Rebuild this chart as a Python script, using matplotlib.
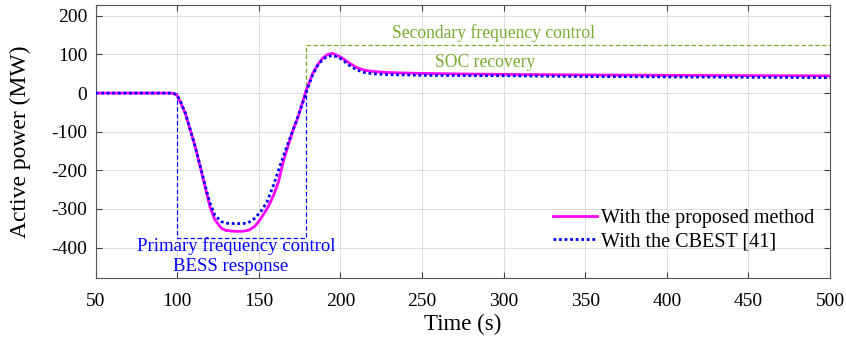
import numpy as np
import matplotlib.pyplot as plt

plt.rcParams['font.family'] = ['Liberation Serif', 'DejaVu Serif']
plt.rcParams['axes.unicode_minus'] = False

# Time axis samples (s) and BESS active power (MW)
t_prop = [50, 96, 98, 100, 102, 105, 108, 111, 114, 117, 120, 123, 127, 130, 135,
          140, 144, 147.5, 150, 153, 156, 159, 162, 165, 168, 171, 174, 177, 179,
          180, 183, 186, 189, 192, 195, 198, 201, 205, 210, 215, 220, 228, 240,
          250, 275, 300, 350, 400, 450, 500]
p_prop = [0, 0, -1, -7, -24, -54, -96, -139, -190, -242, -294, -328, -350, -356, -358,
          -358, -355, -345, -332, -313, -292, -265, -230, -177, -135, -95, -62, -21, 8,
          18, 51, 73, 90, 100, 103, 98, 91, 79, 66, 59, 56, 53.5, 52,
          51, 49.5, 48.5, 47, 46, 45.3, 44.7]

t_cbest = [50, 97, 99, 100, 102, 105, 108, 111, 114, 117, 120, 123, 127, 130, 135,
           140, 143, 147, 151, 155, 159, 163, 167, 171, 174, 177, 180, 183, 186, 189,
           192, 195, 198, 201, 205, 210, 215, 220, 228, 240, 250, 275, 300, 350, 400,
           450, 500]
p_cbest = [0, 0, -3, -6, -22, -52, -96, -139, -188, -238, -284, -316, -333, -337, -338,
           -338, -337, -326, -308, -282, -238, -188, -140, -95, -60, -24, 14, 48, 71, 87,
           95, 97, 94, 87, 73, 60, 53, 50, 48, 47, 46, 45.5, 45, 43, 42,
           41, 40]

# annotation boxes
primary_t = [100, 179]
primary_p = -375
secondary_t = [179, 500]
secondary_p = 124

green = '#77AC30'

fig = plt.figure(figsize=(8.46, 3.42), dpi=100)
ax = fig.add_axes([0.1131, 0.186, 0.868, 0.798])

ax.plot(t_prop, p_prop, color='#FF00FF', lw=2.0, label='With the proposed method', zorder=3)
ax.plot(t_cbest, p_cbest, color='#0000FF', lw=2.0, ls=(0, (1, 1)),
        label='With the CBEST [41]', zorder=4)

# primary frequency control box (open at the top)
ax.plot([primary_t[0], primary_t[0], primary_t[1], primary_t[1]],
        [0, primary_p, primary_p, 0], color='#0000FF', lw=0.9, ls=(0, (3.5, 2)), zorder=2)
# secondary frequency control bracket
ax.plot([secondary_t[0], secondary_t[0], secondary_t[1]],
        [0, secondary_p, secondary_p], color=green, lw=0.9, ls=(0, (3.5, 2)), zorder=2)

ax.text(136.4, -397, 'Primary frequency control', color='#0000FF', fontsize=13.5,
        ha='center', va='center')
ax.text(132.4, -449, 'BESS response', color='#0000FF', fontsize=13.5,
        ha='center', va='center')
ax.text(294, 156, 'Secondary frequency control', color=green, fontsize=12.7,
        ha='center', va='center')
ax.text(288.5, 78, 'SOC recovery', color=green, fontsize=12.7,
        ha='center', va='center')

ax.set_xlim(50, 500)
ax.set_ylim(-480, 227)
ax.set_xticks(np.arange(50, 501, 50))
ax.set_yticks(np.arange(-400, 201, 100))
ax.grid(True, color='#DCDCDC', lw=0.7)
ax.set_axisbelow(True)
ax.tick_params(direction='in', top=True, right=True, labelsize=14, length=4,
               color='#404040')
ax.tick_params(axis='x', pad=10.5)
ax.tick_params(axis='y', pad=6)
for s in ax.spines.values():
    s.set_color('#555555')
    s.set_linewidth(0.8)

ax.set_xlabel('Time (s)', fontsize=16.5, labelpad=3)
ax.set_ylabel('Active power (MW)', fontsize=17)
ax.yaxis.set_label_coords(-0.088, 0.5)

ax.legend(loc='lower left', bbox_to_anchor=(0.612, 0.07), frameon=False, fontsize=14.5,
          handlelength=2.2, handletextpad=0.2, labelspacing=0.2, borderaxespad=0)

fig.savefig('out.png', dpi=100)
